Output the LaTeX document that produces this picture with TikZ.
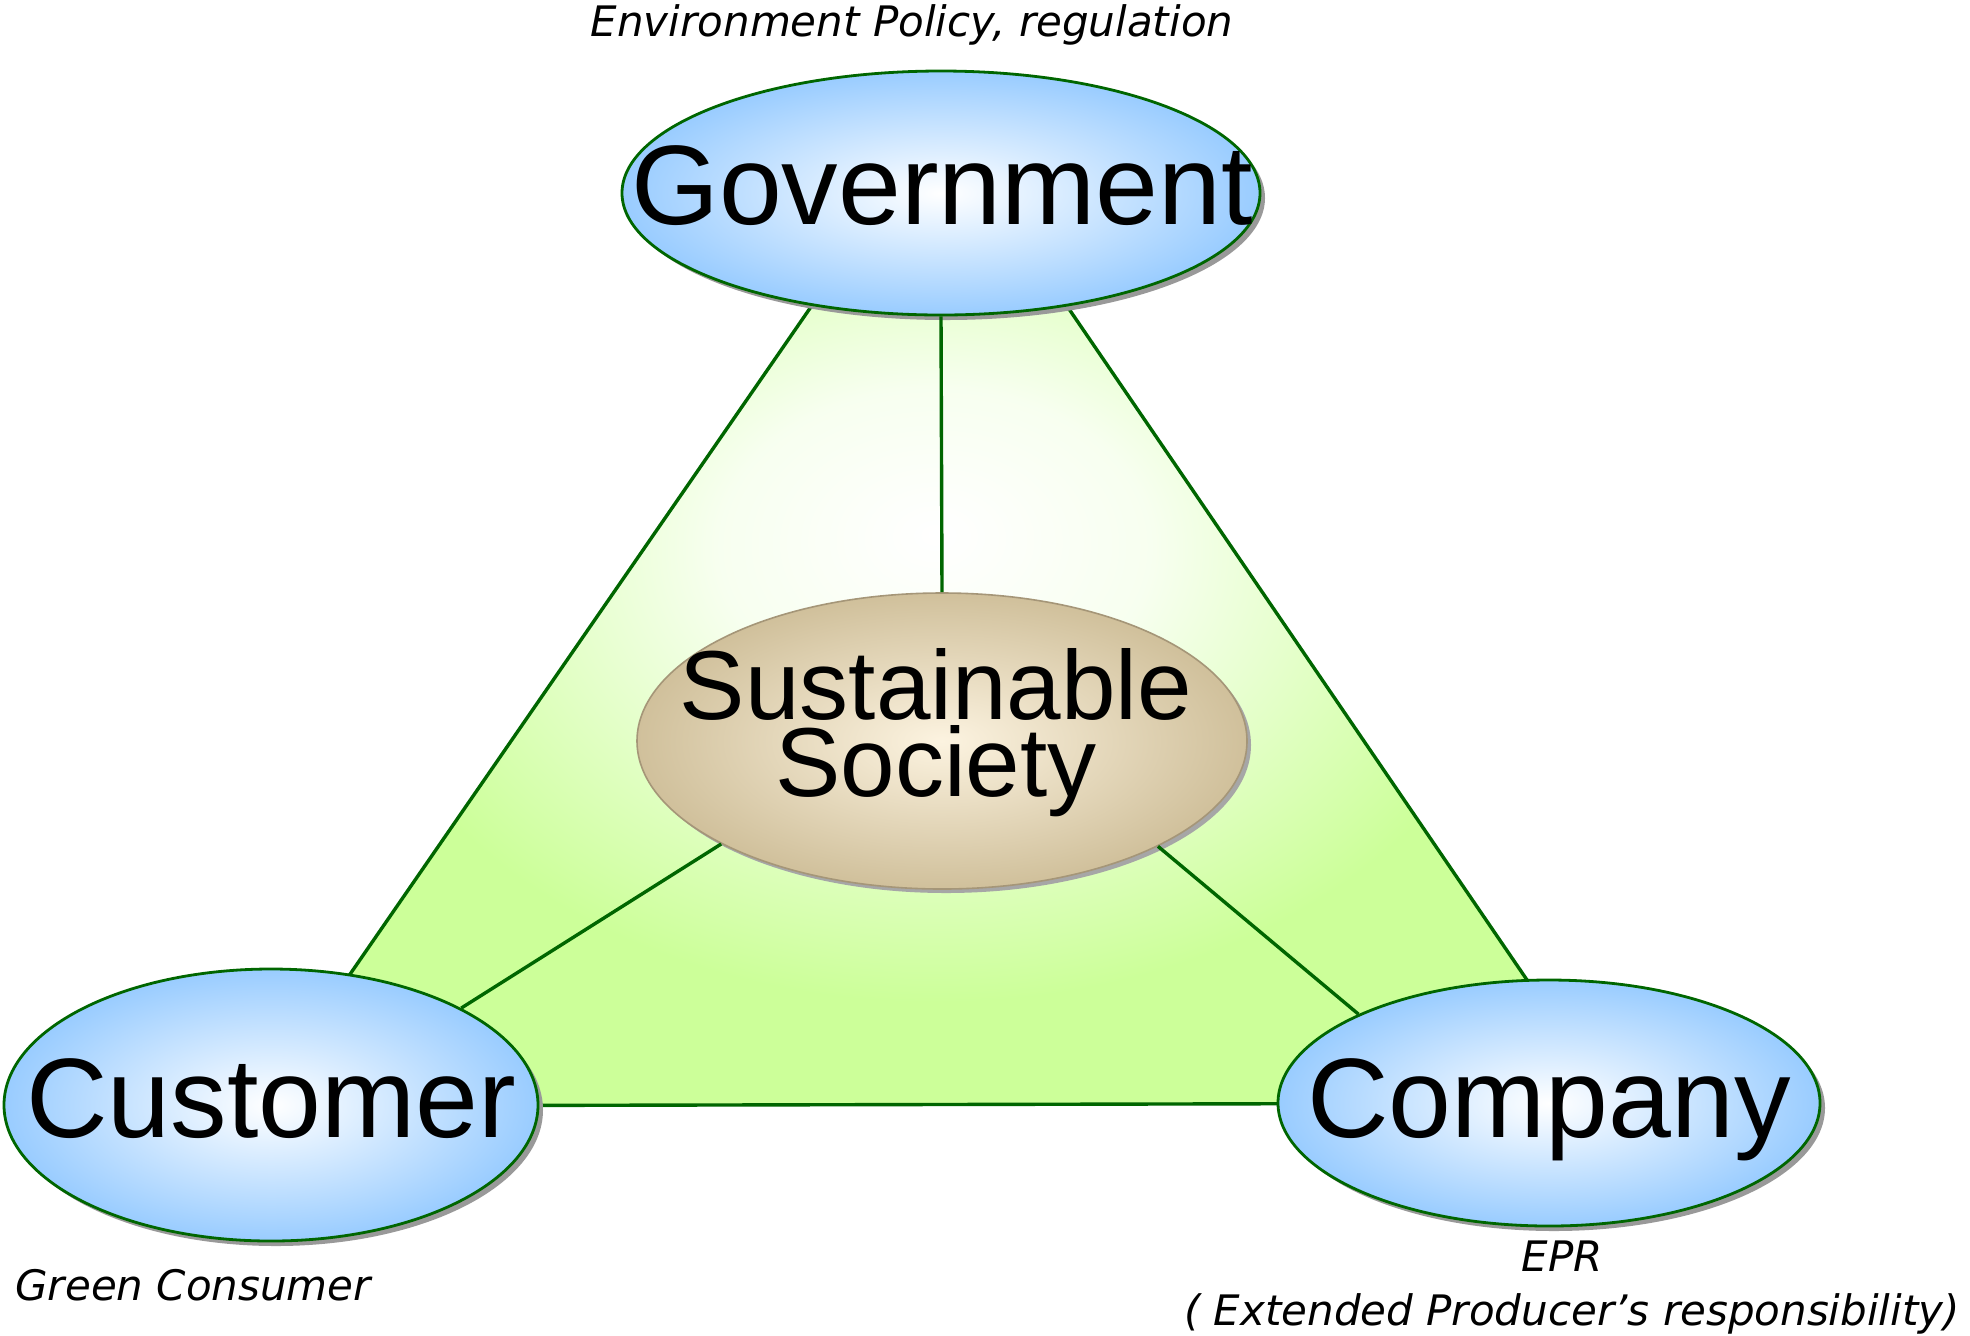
\documentclass[tikz,border=0pt]{standalone}
\usepackage{fontspec}
\setmainfont{Liberation Sans}
\newfontfamily\lblfont{DejaVu Sans}
\usetikzlibrary{shapes.geometric,shadows}
\definecolor{edgegreen}{RGB}{0,102,0}
\definecolor{limefill}{RGB}{204,255,153}
\definecolor{skyblue}{RGB}{153,204,255}
\definecolor{tanout}{RGB}{208,192,155}
\definecolor{tanin}{RGB}{252,243,224}
\definecolor{tanedge}{RGB}{165,150,120}
\pgfdeclareradialshading{trishade}{\pgfpoint{0bp}{4bp}}{%
  color(0bp)=(white); color(8bp)=(white!85!limefill);
  color(22bp)=(limefill); color(50bp)=(limefill)}
\begin{document}
\begin{tikzpicture}[x=0.5pt,y=-0.5pt,
  actor/.style={ellipse, inner sep=0pt, draw=edgegreen, line width=1.4pt,
    inner color=white, outer color=skyblue,
    general shadow={shadow xshift=2.5pt, shadow yshift=-2.5pt, fill=black!40}},
  core/.style={ellipse, inner sep=0pt, draw=tanedge, line width=0.8pt,
    inner color=tanin, outer color=tanout,
    general shadow={shadow xshift=2pt, shadow yshift=-2pt, fill=black!35}},
  bigtext/.style={anchor=base, inner sep=0pt, font=\fontsize{56.5}{60}\selectfont},
  coretext/.style={inner sep=0pt, align=center, font=\fontsize{49}{38.5}\selectfont},
  note/.style={inner sep=0pt, font=\lblfont\itshape\fontsize{21}{24}\selectfont},
  spoke/.style={draw=edgegreen, line width=1.7pt}
]
\path[use as bounding box] (0,0) rectangle (1970,1335);

% triangle
\coordinate (apex) at (940,120);
\coordinate (bl) at (259,1106);
\coordinate (br) at (1611,1103);
\path[shading=trishade] (apex) -- (bl) -- (br) -- cycle;
\draw[spoke, line join=round] (apex) -- (bl) -- (br) -- cycle;

% ellipses
\node[actor, minimum width=319pt, minimum height=122pt] (gov) at (941,193) {};
\node[actor, minimum width=267pt, minimum height=136pt] (cust) at (271,1105) {};
\node[actor, minimum width=271pt, minimum height=123pt] (comp) at (1549,1103) {};
\node[core, minimum width=305pt, minimum height=148pt] (sust) at (942,741) {};

% spokes
\draw[spoke] (gov.south) -- (sust.north);
\draw[spoke] (sust.205) -- (cust.27);
\draw[spoke] (sust.334) -- (comp.155);

% texts
\node[bigtext] (govtxt) at (942,224) {Government};
\node[bigtext] (custtxt) at (271,1137) {Customer};
\node[bigtext] (comptxt) at (1549,1137) {Company};
\node[coretext, anchor=base] (susttxt) at (936,796) {Sustainable\\Society};

\node[note, anchor=base] (envnote) at (912,36) {Environment Policy, regulation};
\node[note, anchor=base west] (greennote) at (15,1300) {Green Consumer};
\node[note, anchor=base] (eprnote) at (1562,1271) {EPR};
\node[note, anchor=base] (eprlong) at (1572,1325) {( Extended Producer’s responsibility)};
\end{tikzpicture}
\end{document}
